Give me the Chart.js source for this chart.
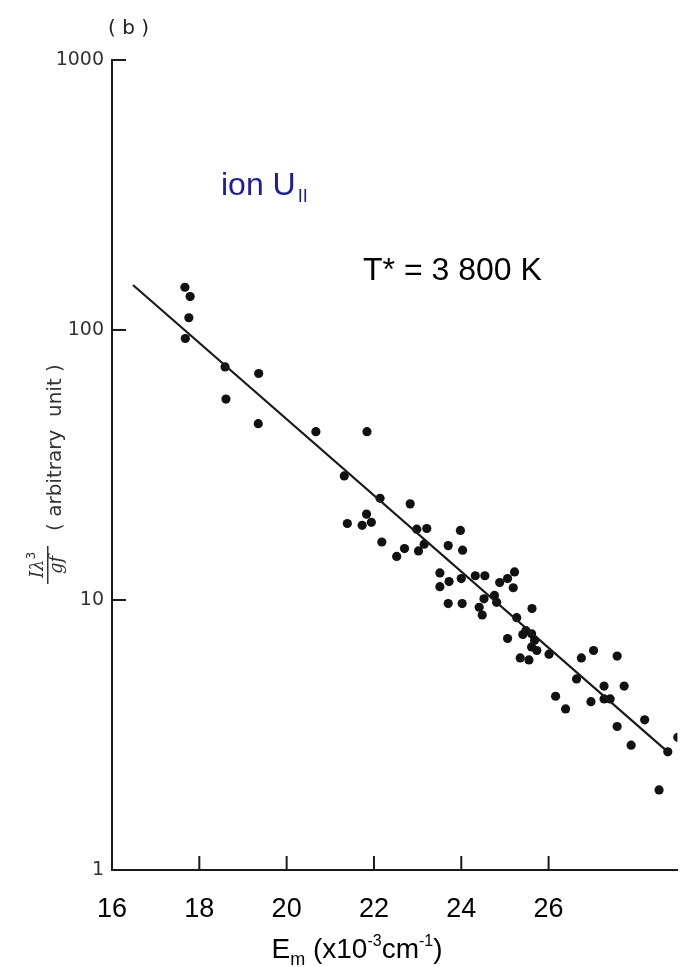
<!DOCTYPE html>
<html>
<head>
<meta charset="utf-8">
<script src="https://cdn.jsdelivr.net/npm/chart.js@4.4.1/dist/chart.umd.min.js"></script>
<style>
  html, body { margin: 0; padding: 0; background: #fff; }
  #wrap { width: 682px; height: 967px; }
</style>
</head>
<body>
<div id="wrap"><canvas id="chart" width="682" height="967"></canvas></div>
<script>
// E_m (x10^-3 cm^-1) and I.lambda^3/gf
const energies = [
  17.67, 17.79, 17.76, 17.68, 18.59, 19.36, 18.61, 19.35, 20.67, 21.84,
  21.32, 22.14, 22.83, 21.83, 21.39, 21.73, 21.94, 22.98, 23.21, 23.98,
  22.18, 23.15, 23.70, 22.70, 23.02, 24.03, 22.52, 23.51, 23.51, 23.72,
  24.00, 24.32, 24.54, 25.22, 25.06, 24.88, 25.19, 23.70, 24.02, 24.52,
  24.41, 24.48, 24.76, 24.81, 25.27, 25.62, 25.06, 25.48, 25.41, 25.61,
  25.68, 25.61, 25.73, 26.01, 25.35, 25.55, 26.75, 27.03, 27.57, 26.64,
  27.27, 27.73, 26.16, 26.39, 26.97, 27.27, 27.41, 28.20, 27.57, 27.89,
  28.73, 28.53, 28.96
];
const intensities = [
  144, 133, 111, 93, 73, 69, 55.5, 45, 42, 42,
  28.8, 23.8, 22.7, 20.8, 19.2, 18.9, 19.4, 18.3, 18.4, 18.1,
  16.4, 16.1, 15.9, 15.5, 15.2, 15.3, 14.5, 12.6, 11.2, 11.7,
  12.0, 12.3, 12.3, 12.7, 12.0, 11.6, 11.1, 9.7, 9.7, 10.1,
  9.4, 8.8, 10.4, 9.8, 8.6, 9.3, 7.2, 7.7, 7.45, 7.5,
  7.1, 6.7, 6.5, 6.3, 6.1, 6.0, 6.1, 6.5, 6.2, 5.1,
  4.8, 4.8, 4.4, 3.95, 4.2, 4.3, 4.3, 3.6, 3.4, 2.9,
  2.74, 1.98, 3.1
];

// straight-line fit (T* = 3 800 K)
const fitEnergies = [16.48, 28.73];
const fitIntensities = [146.8, 2.74];

const xTicks = [16, 18, 20, 22, 24, 26];
const yTicks = [1, 10, 100, 1000];

const ink = '#1a1a1a';

function drawPieces(ctx, pieces, cx, baseline) {
  let total = 0;
  pieces.forEach(p => {
    ctx.font = p.font;
    p.w = ctx.measureText(p.t).width;
    total += p.w;
  });
  let x = cx - total / 2;
  pieces.forEach(p => {
    ctx.font = p.font;
    ctx.fillText(p.t, x, baseline + (p.dy || 0));
    x += p.w;
  });
}

const decorations = {
  id: 'decorations',
  afterDraw(chart) {
    const { ctx, chartArea } = chart;
    const x = chart.scales.x, y = chart.scales.y;
    ctx.save();

    // inward tick marks
    ctx.strokeStyle = ink;
    ctx.lineWidth = 2;
    xTicks.forEach(v => {
      if (v === x.min) return;
      const px = x.getPixelForValue(v);
      ctx.beginPath();
      ctx.moveTo(px, chartArea.bottom);
      ctx.lineTo(px, chartArea.bottom - 14);
      ctx.stroke();
    });
    yTicks.forEach(v => {
      if (v === y.min) return;
      const py = y.getPixelForValue(v);
      ctx.beginPath();
      ctx.moveTo(chartArea.left, py);
      ctx.lineTo(chartArea.left + 14, py);
      ctx.stroke();
    });

    ctx.textAlign = 'left';
    ctx.textBaseline = 'alphabetic';

    // panel label
    ctx.fillStyle = '#222';
    ctx.font = '20px "DejaVu Sans"';
    ctx.fillText('( b )', 108, 34);

    // ion U_II
    ctx.fillStyle = '#1c1ca0';
    ctx.font = '32px "Liberation Sans"';
    ctx.fillText('ion U', 221, 195);
    const w = ctx.measureText('ion U').width;
    ctx.font = '18px "Liberation Sans"';
    ctx.fillText('II', 221 + w + 2, 202);

    // temperature
    ctx.fillStyle = '#000';
    ctx.font = '32px "Liberation Sans"';
    ctx.fillText('T* = 3 800 K', 363, 280);

    // x axis title
    drawPieces(ctx, [
      { t: 'E', font: '28px "Liberation Sans"' },
      { t: 'm', font: '18px "Liberation Sans"', dy: 7 },
      { t: ' (x10', font: '28px "Liberation Sans"' },
      { t: '-3', font: '16px "Liberation Sans"', dy: -12 },
      { t: 'cm', font: '28px "Liberation Sans"' },
      { t: '-1', font: '16px "Liberation Sans"', dy: -12 },
      { t: ')', font: '28px "Liberation Sans"' }
    ], 357, 958);

    // y axis title, rotated
    ctx.save();
    ctx.rotate(-Math.PI / 2);
    ctx.fillStyle = '#333';
    // fraction I lambda^3 / g f
    ctx.textAlign = 'left';
    ctx.font = 'italic 18px "DejaVu Serif"';
    const numW = ctx.measureText('I\u03bb').width;
    ctx.font = '12px "DejaVu Sans"';
    const supW = ctx.measureText('3').width;
    let nx = -565 - (numW + supW) / 2;
    ctx.font = 'italic 18px "DejaVu Serif"';
    ctx.fillText('I\u03bb', nx, 43);
    ctx.font = '12px "DejaVu Sans"';
    ctx.fillText('3', nx + numW, 35);
    ctx.fillRect(-584, 47, 38, 1.5);
    ctx.font = 'italic 18px "DejaVu Serif"';
    ctx.textAlign = 'center';
    ctx.fillText('gf', -565, 62);
    ctx.textAlign = 'left';
    ctx.font = '20px "DejaVu Sans"';
    ctx.fillText('( arbitrary  unit )', -531, 61);
    ctx.restore();

    ctx.restore();
  }
};

const points = energies.map((e, i) => ({ x: e, y: intensities[i] }));
const fitLine = fitEnergies.map((e, i) => ({ x: e, y: fitIntensities[i] }));

new Chart(document.getElementById('chart'), {
  type: 'scatter',
  data: {
    datasets: [
      {
        label: 'fit',
        data: fitLine,
        showLine: true,
        borderColor: ink,
        borderWidth: 2.2,
        pointRadius: 0,
        fill: false
      },
      {
        label: 'lines',
        data: points,
        pointRadius: 4.6,
        pointBackgroundColor: '#111',
        pointBorderWidth: 0
      }
    ]
  },
  plugins: [decorations],
  options: {
    responsive: false,
    animation: false,
    layout: { padding: { top: 60, right: 0, bottom: 0, left: 0 } },
    plugins: {
      legend: { display: false },
      tooltip: { enabled: false }
    },
    scales: {
      x: {
        type: 'linear',
        min: 16,
        max: 28.95,
        afterBuildTicks: s => { s.ticks = xTicks.map(v => ({ value: v })); },
        afterFit: s => { s.height = 97; },
        grid: { drawOnChartArea: false, drawTicks: false },
        border: { color: ink, width: 2 },
        ticks: {
          autoSkip: false,
          maxRotation: 0,
          padding: 23,
          color: '#000',
          font: { family: 'Liberation Sans', size: 27 },
          callback: v => String(v)
        }
      },
      y: {
        type: 'logarithmic',
        min: 1,
        max: 1000,
        afterBuildTicks: s => { s.ticks = yTicks.map(v => ({ value: v })); },
        afterFit: s => { s.width = 112; },
        grid: { drawOnChartArea: false, drawTicks: false },
        border: { color: ink, width: 2 },
        ticks: {
          autoSkip: false,
          padding: 8,
          color: '#333',
          font: { family: 'DejaVu Sans', size: 19 },
          callback: v => String(v)
        }
      }
    }
  }
});
</script>
</body>
</html>
